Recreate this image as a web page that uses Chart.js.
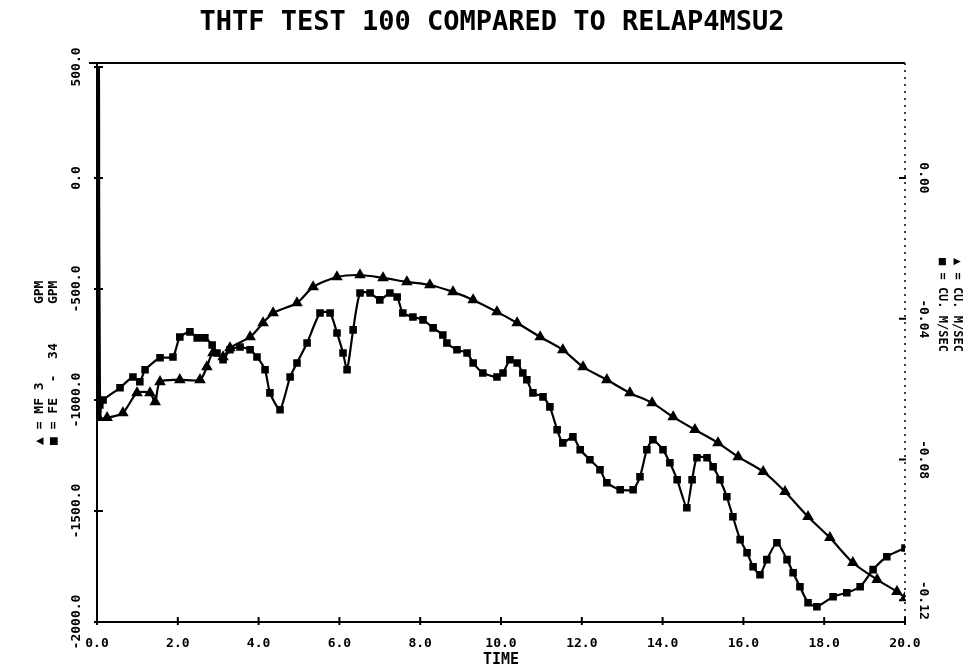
<!DOCTYPE html>
<html>
<head>
<meta charset="utf-8">
<script src="https://cdn.jsdelivr.net/npm/chart.js@4/dist/chart.umd.min.js"></script>
<style>
  html, body { margin: 0; padding: 0; background: #ffffff; }
  #wrap { width: 980px; height: 670px; position: relative; }
</style>
</head>
<body>
<div id="wrap"><canvas id="c"></canvas></div>
<script>
// ---- Data ----
const chartTitle = "THTF TEST 100 COMPARED TO RELAP4MSU2";
const xTitle = "TIME";
const leftTitleLines = ["\u25B2 = MF 3          GPM", "\u25A0 = FE  -  34     GPM"];
const rightTitleLines = ["\u25B2 = CU. M/SEC", "\u25A0 = CU. M/SEC"];

// Series MF 3 (triangles), time in x-units, flow in GPM
const mfTime = [0.0, 0.04, 0.25, 0.64, 0.99, 1.31, 1.44, 1.56, 2.05, 2.55, 2.72, 2.87, 3.12, 3.29, 3.79, 4.11, 4.36, 4.95, 5.35, 5.94, 6.51, 7.08, 7.67, 8.24, 8.81, 9.31, 9.90, 10.40, 10.97, 11.53, 12.03, 12.62, 13.19, 13.74, 14.26, 14.80, 15.37, 15.87, 16.49, 17.03, 17.60, 18.14, 18.71, 19.31, 19.80, 20.0];
const mfFlow = [520, -1080, -1080, -1058, -968, -968, -1008, -918, -909, -909, -851, -788, -806, -765, -716, -653, -608, -563, -491, -446, -437, -450, -468, -482, -513, -549, -603, -653, -716, -774, -851, -909, -968, -1013, -1076, -1134, -1193, -1256, -1323, -1413, -1526, -1620, -1733, -1809, -1863, -1890];

// Series FE - 34 (squares)
const feTime = [0.0, 0.02, 0.07, 0.15, 0.57, 0.89, 1.06, 1.19, 1.56, 1.88, 2.05, 2.30, 2.48, 2.67, 2.85, 2.97, 3.12, 3.29, 3.54, 3.79, 3.96, 4.16, 4.28, 4.53, 4.78, 4.95, 5.20, 5.52, 5.77, 5.94, 6.09, 6.19, 6.34, 6.51, 6.76, 7.00, 7.25, 7.43, 7.57, 7.82, 8.07, 8.32, 8.56, 8.66, 8.91, 9.16, 9.31, 9.55, 9.90, 10.05, 10.22, 10.40, 10.54, 10.64, 10.79, 11.04, 11.21, 11.39, 11.53, 11.78, 11.96, 12.20, 12.45, 12.62, 12.95, 13.27, 13.44, 13.61, 13.76, 14.01, 14.18, 14.36, 14.60, 14.73, 14.85, 15.10, 15.25, 15.42, 15.59, 15.74, 15.92, 16.09, 16.24, 16.41, 16.58, 16.83, 17.08, 17.23, 17.40, 17.60, 17.82, 18.22, 18.56, 18.89, 19.21, 19.55, 20.0];
const feFlow = [540, -1040, -1022, -1000, -945, -896, -918, -864, -810, -806, -716, -693, -720, -720, -752, -788, -819, -774, -761, -774, -806, -864, -968, -1044, -896, -833, -743, -608, -608, -698, -788, -864, -684, -518, -518, -549, -518, -536, -608, -626, -639, -675, -707, -743, -774, -788, -833, -878, -896, -878, -819, -833, -878, -909, -968, -986, -1031, -1134, -1193, -1166, -1224, -1269, -1314, -1373, -1404, -1404, -1346, -1224, -1179, -1224, -1283, -1359, -1485, -1359, -1260, -1260, -1301, -1359, -1436, -1526, -1629, -1688, -1751, -1787, -1719, -1643, -1719, -1778, -1841, -1913, -1931, -1886, -1868, -1841, -1764, -1706, -1667];

// Axis ticks
const xTicks = [0, 2, 4, 6, 8, 10, 12, 14, 16, 18, 20];
const xTickLabels = ["0.0", "2.0", "4.0", "6.0", "8.0", "10.0", "12.0", "14.0", "16.0", "18.0", "20.0"];
const yTicks = [500, 0, -500, -1000, -1500, -2000];
const yTickLabels = ["500.0", "0.0", "-500.0", "-1000.0", "-1500.0", "-2000.0"];
const y1Ticks = [0, -0.04, -0.08, -0.12];
const y1TickLabels = ["0.00", "-0.04", "-0.08", "-0.12"];
const gpmToCms = 6.309e-5; // unit conversion GPM -> cubic metres per second

const mfPoints = mfTime.map((t, i) => ({ x: t, y: mfFlow[i] }));
const fePoints = feTime.map((t, i) => ({ x: t, y: feFlow[i] }));

const FONT = '"DejaVu Sans Mono", "Liberation Mono", monospace';

const decor = {
  id: 'decor',
  afterDraw(chart) {
    const ctx = chart.ctx;
    const ca = chart.chartArea;
    const sx = chart.scales.x, sy = chart.scales.y, sy1 = chart.scales.y1;
    ctx.save();
    ctx.strokeStyle = '#000';
    ctx.fillStyle = '#000';
    // frame
    ctx.lineWidth = 2;
    ctx.beginPath();
    ctx.moveTo(ca.left, ca.top - 4); ctx.lineTo(ca.left, ca.bottom + 2);
    ctx.moveTo(ca.left - 2, ca.bottom); ctx.lineTo(ca.right, ca.bottom);
    ctx.moveTo(ca.left - 8, ca.top - 4); ctx.lineTo(ca.right, ca.top - 4);
    ctx.stroke();
    ctx.lineWidth = 1.5;
    ctx.setLineDash([2, 5]);
    ctx.beginPath();
    ctx.moveTo(ca.right, ca.top - 4); ctx.lineTo(ca.right, ca.bottom);
    ctx.stroke();
    ctx.setLineDash([]);
    // x ticks
    ctx.lineWidth = 2;
    ctx.font = 'bold 13px ' + FONT;
    ctx.textAlign = 'center';
    ctx.textBaseline = 'middle';
    xTicks.forEach((v, i) => {
      const px = sx.getPixelForValue(v);
      ctx.beginPath(); ctx.moveTo(px, ca.bottom - 5); ctx.lineTo(px, ca.bottom + 3); ctx.stroke();
      ctx.fillText(xTickLabels[i], px, ca.bottom + 22);
    });
    // left ticks (rotated labels)
    yTicks.forEach((v, i) => {
      const py = sy.getPixelForValue(v);
      ctx.beginPath(); ctx.moveTo(ca.left - 3, py); ctx.lineTo(ca.left + 6, py); ctx.stroke();
      ctx.save();
      ctx.translate(ca.left - 20, py);
      ctx.rotate(-Math.PI / 2);
      ctx.fillText(yTickLabels[i], 0, 0);
      ctx.restore();
    });
    // right ticks
    y1Ticks.forEach((v, i) => {
      const py = sy1.getPixelForValue(v);
      ctx.beginPath(); ctx.moveTo(ca.right - 6, py); ctx.lineTo(ca.right + 1, py); ctx.stroke();
      ctx.save();
      ctx.translate(ca.right + 18, py);
      ctx.rotate(Math.PI / 2);
      ctx.fillText(y1TickLabels[i], 0, 0);
      ctx.restore();
    });
    // title
    ctx.font = 'bold 27px ' + FONT;
    ctx.fillText(chartTitle, 492, 23);
    // x title
    ctx.font = 'bold 15px ' + FONT;
    ctx.fillText(xTitle, sx.getPixelForValue(10), ca.bottom + 38);
    // left axis title
    ctx.font = 'bold 13px ' + FONT;
    ctx.textAlign = 'left';
    leftTitleLines.forEach((s, i) => {
      ctx.save();
      ctx.translate(40 + i * 14, 445);
      ctx.rotate(-Math.PI / 2);
      ctx.fillText(s, 0, 0);
      ctx.restore();
    });
    // right axis title
    ctx.font = 'bold 12px ' + FONT;
    rightTitleLines.forEach((s, i) => {
      ctx.save();
      ctx.translate(957 - i * 15, 258);
      ctx.rotate(Math.PI / 2);
      ctx.fillText(s, 0, 0);
      ctx.restore();
    });
    ctx.restore();
  }
};

const firstSegWidth = (c) => (c.p0DataIndex === 0 ? 6 : 2.2);

new Chart(document.getElementById('c'), {
  type: 'line',
  data: {
    datasets: [
      {
        label: 'MF 3',
        data: mfPoints,
        borderColor: '#000', backgroundColor: '#000',
        borderWidth: 2.2, tension: 0.25,
        segment: { borderWidth: firstSegWidth },
        pointStyle: 'triangle', pointRadius: 4.5, pointHoverRadius: 4.5,
        yAxisID: 'y'
      },
      {
        label: 'FE - 34',
        data: fePoints,
        borderColor: '#000', backgroundColor: '#000',
        borderWidth: 2.2, tension: 0.2,
        segment: { borderWidth: firstSegWidth },
        pointStyle: 'rect', pointRadius: 3.8, pointHoverRadius: 3.8,
        yAxisID: 'y'
      }
    ]
  },
  options: {
    responsive: true,
    maintainAspectRatio: false,
    animation: false,
    layout: { padding: { left: 97, right: 75, top: 67, bottom: 48 } },
    plugins: { legend: { display: false }, title: { display: false }, tooltip: { enabled: false } },
    scales: {
      x: { type: 'linear', min: 0, max: 20, display: false },
      y: { type: 'linear', min: -2000, max: 500, display: false },
      y1: { type: 'linear', position: 'right', min: -2000 * gpmToCms, max: 500 * gpmToCms, display: false }
    }
  },
  plugins: [decor]
});
</script>
</body>
</html>
